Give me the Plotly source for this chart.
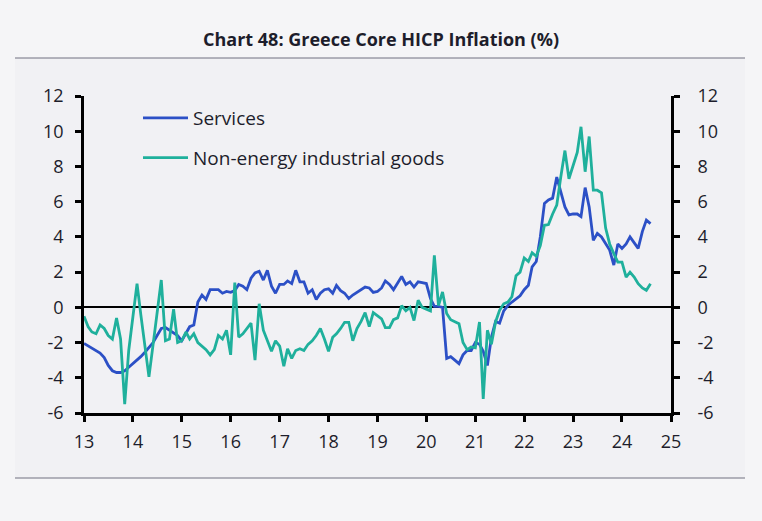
import pandas as pd
import plotly.graph_objects as go

# ---- data, monthly Jan-2013 .. Aug-2024 ----
start_month = "2013-01-01"
n_months = 140

services = [
    # 2013
    -2.05, -2.2, -2.35, -2.45, -2.6, -2.85, -3.3, -3.6, -3.7, -3.7, -3.6, -3.4,
    # 2014
    -3.2, -3.0, -2.8, -2.55, -2.3, -2.0, -1.6, -1.2, -1.15, -1.3, -1.5, -1.6,
    # 2015
    -1.9, -1.5, -1.1, -1.0, 0.3, 0.7, 0.45, 1.0, 1.0, 1.0, 0.8, 0.9,
    # 2016
    0.85, 0.95, 1.3, 1.2, 1.0, 1.65, 1.95, 2.05, 1.55, 2.1, 1.2, 0.8,
    # 2017
    1.3, 1.3, 1.5, 1.35, 2.1, 1.45, 1.45, 0.8, 1.0, 0.45, 0.8, 1.0,
    # 2018
    1.05, 0.8, 1.25, 0.95, 0.8, 0.5, 0.7, 0.85, 1.0, 1.15, 1.1, 0.85,
    # 2019
    0.9, 1.1, 1.5, 1.3, 1.0, 1.35, 1.75, 1.3, 1.45, 1.15, 1.45, 1.4,
    # 2020
    1.35, 0.5, 0.05, 0.05, 0.0, -2.9, -2.8, -3.0, -3.2, -2.7, -2.45, -2.45,
    # 2021
    -2.0, -2.1, -2.5, -3.3, -1.7, -0.8, -0.9, -0.2, 0.1, 0.3, 0.5, 0.65,
    # 2022
    1.0, 1.25, 2.3, 2.6, 4.0, 5.9, 6.1, 6.2, 7.4, 6.5, 5.7, 5.25,
    # 2023
    5.3, 5.3, 5.15, 6.8, 5.7, 3.8, 4.2, 4.0, 3.6, 3.25, 2.4, 3.6,
    # 2024
    3.35, 3.6, 4.0, 3.7, 3.35, 4.3, 4.95, 4.75,
]

non_energy_goods = [
    # 2013
    -0.5, -1.1, -1.4, -1.5, -1.0, -1.2, -1.6, -1.8, -0.6, -1.8, -5.5, -2.45,
    # 2014
    -0.55, 1.35, -0.4, -2.2, -3.95, -2.1, -0.3, 1.55, -1.9, -1.8, -0.1, -2.0,
    # 2015
    -1.9, -1.4, -1.8, -1.5, -2.0, -2.2, -2.4, -2.7, -2.4, -1.6, -1.8, -1.3,
    # 2016
    -2.7, 1.4, -1.7, -1.5, -1.2, -0.9, -3.0, 0.2, -1.3, -1.9, -2.5, -1.9,
    # 2017
    -2.2, -3.35, -2.35, -2.9, -2.45, -2.35, -2.45, -2.1, -1.9, -1.6, -1.2, -1.8,
    # 2018
    -2.5, -1.7, -1.5, -1.2, -0.85, -0.85, -1.9, -1.2, -0.8, -0.3, -1.1, -0.3,
    # 2019
    -0.5, -0.65, -1.15, -1.15, -0.7, -0.6, 0.1, -0.2, 0.0, -0.75, 0.4, 0.0,
    # 2020
    -0.1, -0.2, 2.95, 0.1, 0.87, -0.35, -0.7, -0.8, -0.93, -2.0, -2.4, -2.25,
    # 2021
    -2.3, -0.83, -5.2, -1.3, -2.1, -0.83, -0.17, 0.2, 0.3, 0.6, 1.8, 2.0,
    # 2022
    2.8, 2.6, 3.1, 2.9, 3.5, 4.66, 4.7, 5.3, 5.8, 7.4, 8.9, 7.3,
    # 2023
    8.1, 8.8, 10.25, 7.7, 9.7, 6.65, 6.65, 6.5, 4.5, 3.6, 3.05, 2.57,
    # 2024
    2.57, 1.72, 2.0, 1.72, 1.34, 1.1, 0.97, 1.34,
]

year_ticks = list(range(2013, 2026))
year_labels = [str(y % 100) for y in year_ticks]
y_ticks = list(range(-6, 13, 2))
y_labels = [str(v) for v in y_ticks]   # plain hyphen minus, as in the reference

title_text = "Chart 48: Greece Core HICP Inflation (%)"
series_names = ["Services", "Non-energy industrial goods"]

# ---- figure ----
dates = pd.date_range(start_month, periods=n_months, freq="MS")

BLUE = "#2c50c6"
TEAL = "#1fb09c"
FONT = "Open Sans"
TXT = "#1d1d2b"
W, H = 762, 521
L, R, T, B = 84, 91, 96, 108
PW, PH = W - L - R, H - T - B


def px_x(p):
    return (p - L) / PW


def px_y(p):
    return (H - B - p) / PH


fig = go.Figure()
fig.add_trace(go.Scatter(x=dates, y=services, mode="lines", name=series_names[0],
                         line=dict(color=BLUE, width=2.8), legendgroup="a"))
fig.add_trace(go.Scatter(x=dates, y=non_energy_goods, mode="lines", name=series_names[1],
                         line=dict(color=TEAL, width=2.8), legendgroup="b"))
# invisible trace so that the right-hand axis is drawn
fig.add_trace(go.Scatter(x=dates, y=services, mode="lines", yaxis="y2",
                         line=dict(color="rgba(0,0,0,0)", width=0),
                         showlegend=False, hoverinfo="skip"))

tick_dates = [pd.Timestamp(f"{y}-01-01") for y in year_ticks]

axis_common = dict(
    showline=True, linecolor="black", linewidth=2.8,
    ticks="outside", ticklen=6, tickwidth=2.5, tickcolor="black",
    showgrid=False, tickfont=dict(family=FONT, size=18, color=TXT),
)

fig.update_layout(
    width=W, height=H,
    paper_bgcolor="#f5f5f7", plot_bgcolor="rgba(0,0,0,0)",
    margin=dict(l=L, r=R, t=T, b=B),
    title=dict(text=f"<b>{title_text}</b>", x=0.5, xanchor="center",
               y=1 - 40 / H, yanchor="middle",
               font=dict(family=FONT, size=18, color=TXT)),
    xaxis=dict(type="date", range=[tick_dates[0], tick_dates[-1]],
               tickvals=tick_dates, ticktext=year_labels, zeroline=False,
               ticklabelstandoff=4, **axis_common),
    yaxis=dict(range=[-6, 12], tickvals=y_ticks, ticktext=y_labels, side="left",
               zeroline=True, zerolinecolor="black", zerolinewidth=2,
               ticklabelstandoff=8, **axis_common),
    yaxis2=dict(range=[-6, 12], tickvals=y_ticks, ticktext=y_labels,
                side="right", overlaying="y", zeroline=False,
                ticklabelstandoff=14, **axis_common),
    legend=dict(x=px_x(138), y=px_y(99), xanchor="left", yanchor="top",
                bgcolor="rgba(0,0,0,0)", borderwidth=0,
                font=dict(family=FONT, size=19, color=TXT),
                traceorder="grouped", tracegroupgap=12, itemwidth=45),
    shapes=[
        dict(type="rect", xref="paper", yref="paper",
             x0=px_x(15), x1=px_x(745), y0=px_y(478), y1=px_y(58),
             fillcolor="#f1f1f4", line=dict(width=0), layer="below"),
        dict(type="line", xref="paper", yref="paper",
             x0=px_x(15), x1=px_x(745), y0=px_y(58), y1=px_y(58),
             line=dict(color="#707080", width=1)),
        dict(type="line", xref="paper", yref="paper",
             x0=px_x(15), x1=px_x(745), y0=px_y(478), y1=px_y(478),
             line=dict(color="#707080", width=1)),
    ],
    showlegend=True,
)

fig.write_html(
    "out.html",
    config={"displayModeBar": False},
    post_script="document.body.style.margin='0';"
                "document.body.style.background='#f5f5f7';",
)
